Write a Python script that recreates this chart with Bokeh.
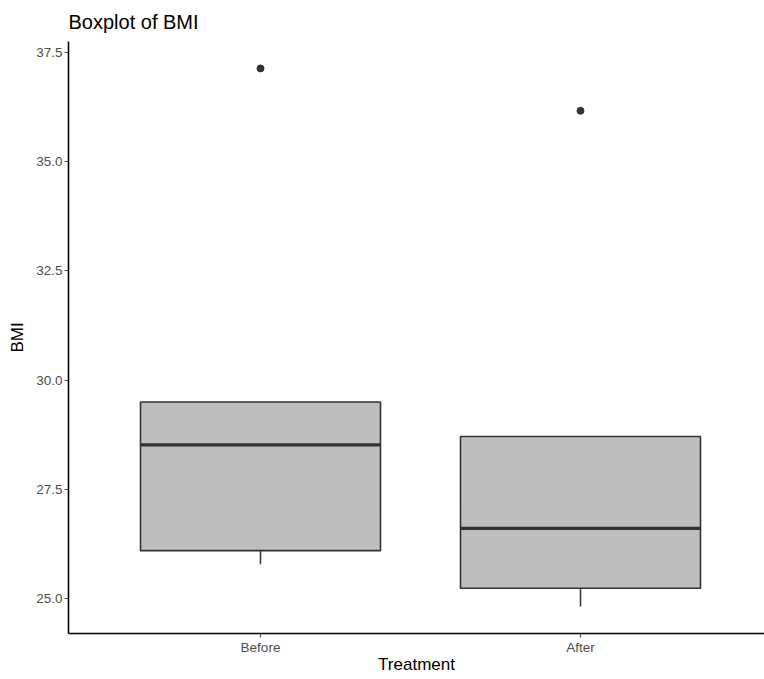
from bokeh.plotting import figure
from bokeh.models import Range1d, FixedTicker, PrintfTickFormatter, ColumnDataSource
from bokeh.embed import file_html
from bokeh.resources import INLINE

# Summary statistics of BMI per treatment group
treatment = ["Before", "After"]
lower_whisker = [25.79, 24.82]
q1 = [26.10, 25.24]
median = [28.52, 26.61]
q3 = [29.50, 28.71]
upper_whisker = [29.50, 28.71]
outlier_group = ["Before", "After"]
outlier_bmi = [37.13, 36.16]
y_ticks = [25.0, 27.5, 30.0, 32.5, 35.0, 37.5]

FONT = "Liberation Sans"
BOX_W = 0.75

pos = {t: i + 1 for i, t in enumerate(treatment)}
xs = [pos[t] for t in treatment]

src = ColumnDataSource(dict(
    x=xs,
    x0=[x - BOX_W / 2 for x in xs],
    x1=[x + BOX_W / 2 for x in xs],
    lw=lower_whisker, q1=q1, med=median, q3=q3, uw=upper_whisker,
))
out_src = ColumnDataSource(dict(x=[pos[g] for g in outlier_group], y=outlier_bmi))

# 5% expansion of the data range on the value axis
lo = min(lower_whisker + outlier_bmi)
hi = max(upper_whisker + outlier_bmi)
pad = (hi - lo) * 0.05

p = figure(
    width=764, height=679,
    x_range=Range1d(0.4, 2.575),
    y_range=Range1d(lo - pad, hi + pad),
    output_backend="svg", toolbar_location=None,
    min_border_left=68, min_border_right=0, min_border_top=41, min_border_bottom=46,
)
p.background_fill_color = "white"
p.border_fill_color = "white"
p.outline_line_color = None
p.xgrid.visible = False
p.ygrid.visible = False

p.title.text = "Boxplot of BMI"
p.title.text_font = FONT
p.title.text_font_size = "20px"
p.title.text_font_style = "normal"
p.title.text_color = "black"
p.title.align = "left"
p.title.offset = 0
p.title.standoff = 17

# whiskers
p.segment(x0="x", x1="x", y0="lw", y1="q1", source=src, line_color="#333333", line_width=1.5)
p.segment(x0="x", x1="x", y0="q3", y1="uw", source=src, line_color="#333333", line_width=1.5)
# boxes
p.vbar(x="x", width=BOX_W, bottom="q1", top="q3", source=src,
       fill_color="#BEBEBE", line_color="#333333", line_width=1.6)
# medians
p.segment(x0="x0", x1="x1", y0="med", y1="med", source=src, line_color="#333333", line_width=3.2)
# outliers
p.scatter(x="x", y="y", source=out_src, size=7, fill_color="#333333", line_color="#333333")

for ax in (p.xaxis[0], p.yaxis[0]):
    ax.axis_line_color = "black"
    ax.axis_line_width = 1.6
    ax.major_tick_line_color = "#4D4D4D"
    ax.major_tick_line_width = 1.2
    ax.major_tick_out = 4
    ax.major_tick_in = 0
    ax.minor_tick_line_color = None
    ax.major_label_text_font = FONT
    ax.major_label_text_font_size = "13.5px"
    ax.major_label_text_color = "#4D4D4D"
    ax.major_label_standoff = 2
    ax.axis_label_text_font = FONT
    ax.axis_label_text_font_size = "17px"
    ax.axis_label_text_font_style = "normal"
    ax.axis_label_text_color = "black"

p.xaxis.ticker = FixedTicker(ticks=xs)
p.xaxis.major_label_overrides = {pos[t]: t for t in treatment}
p.xaxis.axis_label = "Treatment"
p.xaxis.axis_label_standoff = -3

p.yaxis.ticker = FixedTicker(ticks=y_ticks)
p.yaxis.formatter = PrintfTickFormatter(format="%.1f")
p.yaxis.axis_label = "BMI"
p.yaxis.axis_label_standoff = 6

open("out.html", "w").write(file_html(p, INLINE))
